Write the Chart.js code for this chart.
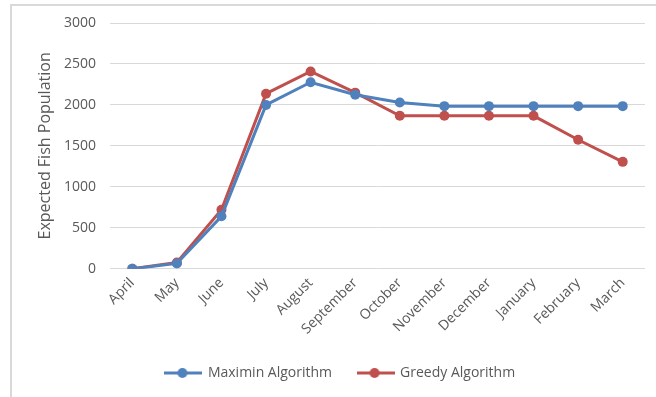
<!DOCTYPE html>
<html>
<head>
<meta charset="utf-8">
<script src="https://cdn.jsdelivr.net/npm/chart.js@4.4.1/dist/chart.umd.min.js"></script>
<style>
  html, body { margin: 0; padding: 0; background: #fff; overflow: hidden; }
  #wrap { position: relative; width: 656px; height: 397px; }
  #frame { position: absolute; left: 10px; top: 4px; width: 700px; height: 450px;
           border-left: 2px solid #d9d9d9; border-top: 2px solid #d9d9d9; box-sizing: border-box; }
  canvas { position: absolute; left: 0; top: 0; }
</style>
</head>
<body>
<div id="wrap">
  <div id="frame"></div>
  <canvas id="chart" width="656" height="397"></canvas>
</div>
<script>
// Months of the season, April through March
const months = ['April', 'May', 'June', 'July', 'August', 'September',
                'October', 'November', 'December', 'January', 'February', 'March'];

// Expected fish population under each policy
const maximinValues = [0, 65, 640, 2000, 2277, 2125, 2030, 1985, 1985, 1985, 1985, 1985];
const greedyValues  = [0, 77, 720, 2137, 2408, 2150, 1867, 1867, 1867, 1867, 1575, 1305];

// Y axis range and step
const yMin = 0, yMax = 3000, yStep = 500;

const BLUE = '#4f81bd';
const RED = '#c0504d';
const FONT = '"Open Sans", "Liberation Sans", sans-serif';
const TEXT = '#595959';

// Legend symbol: a short line with a dot in the middle
function legendSymbol(color) {
  const c = document.createElement('canvas');
  c.width = 38; c.height = 12;
  const g = c.getContext('2d');
  g.strokeStyle = color; g.lineWidth = 3;
  g.beginPath(); g.moveTo(0, 6); g.lineTo(38, 6); g.stroke();
  g.fillStyle = color;
  g.beginPath(); g.arc(18, 6, 5, 0, Math.PI * 2); g.fill();
  return c;
}

new Chart(document.getElementById('chart'), {
  type: 'line',
  data: {
    labels: months,
    datasets: [
      {
        label: 'Maximin Algorithm',
        data: maximinValues,
        borderColor: BLUE,
        backgroundColor: BLUE,
        borderWidth: 3,
        pointRadius: 5,
        pointBorderWidth: 0,
        pointStyle: 'circle',
        tension: 0
      },
      {
        label: 'Greedy Algorithm',
        data: greedyValues,
        borderColor: RED,
        backgroundColor: RED,
        borderWidth: 3,
        pointRadius: 5,
        pointBorderWidth: 0,
        pointStyle: 'circle',
        tension: 0
      }
    ]
  },
  options: {
    responsive: false,
    animation: false,
    layout: { padding: { left: 36, right: 11, top: 23, bottom: 7 } },
    plugins: {
      tooltip: { enabled: false },
      legend: {
        position: 'bottom',
        labels: {
          usePointStyle: true,
          pointStyleWidth: 35,
          padding: 26,
          color: TEXT,
          font: { family: FONT, size: 14 },
          generateLabels(chart) {
            return chart.data.datasets.map((ds, i) => ({
              text: ds.label,
              pointStyle: legendSymbol(ds.borderColor),
              fillStyle: ds.borderColor,
              strokeStyle: ds.borderColor,
              lineWidth: 0,
              fontColor: TEXT,
              hidden: false,
              datasetIndex: i
            }));
          }
        }
      }
    },
    scales: {
      x: {
        offset: true,
        afterFit(scale) { scale.height -= 3.6; },
        grid: { display: false, drawTicks: false },
        border: { display: false },
        ticks: {
          color: TEXT,
          font: { family: FONT, size: 14 },
          minRotation: 45,
          maxRotation: 45,
          padding: 6
        }
      },
      y: {
        min: yMin,
        max: yMax,
        afterFit(scale) { scale.width = 74; },
        grid: { color: '#d9d9d9', lineWidth: 1, drawTicks: false },
        border: { display: false },
        ticks: {
          stepSize: yStep,
          color: TEXT,
          font: { family: FONT, size: 14 },
          padding: 14,
          callback: (v) => String(v)
        },
        title: {
          display: true,
          text: 'Expected Fish Population',
          color: TEXT,
          font: { family: FONT, size: 16 },
          padding: { top: 0, bottom: 2 }
        }
      }
    }
  }
});
</script>
</body>
</html>
